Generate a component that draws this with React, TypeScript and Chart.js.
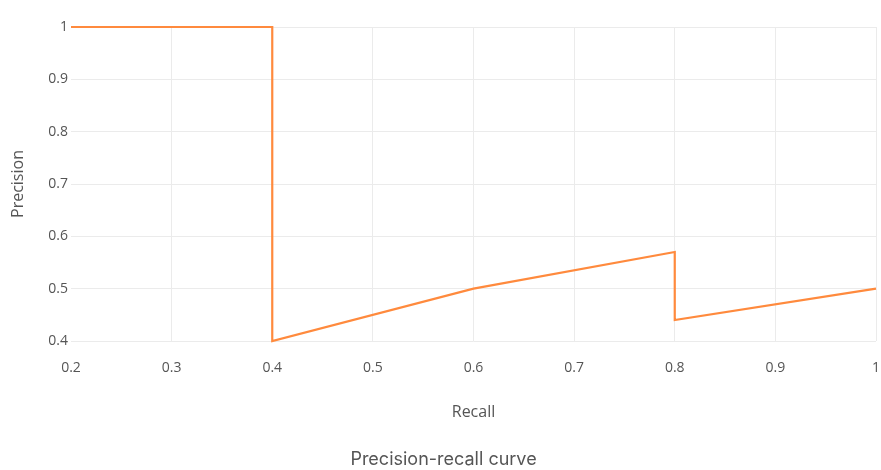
import React, { useEffect, useRef } from "react";
import { Chart, registerables } from "chart.js";

Chart.register(...registerables);

const recall = [0.2, 0.4, 0.4, 0.6, 0.8, 0.8, 1.0];
const precision = [1.0, 1.0, 0.4, 0.5, 0.57, 0.44, 0.5];

const xTitle = "Recall";
const yTitle = "Precision";
const chartTitle = "Precision-recall curve";

const TICK_FONT = { family: "'Open Sans', sans-serif", size: 14 };
const fmt = (v: number) => String(Number(v.toFixed(2)));

export default function App() {
  const ref = useRef<HTMLCanvasElement>(null);
  useEffect(() => {
    document.body.style.margin = "0";
    const chart = new Chart(ref.current!, {
      type: "line",
      data: {
        datasets: [
          {
            data: recall.map((x, i) => ({ x, y: precision[i] })),
            borderColor: "#ff8a3d",
            borderWidth: 2.2,
            pointRadius: 0,
            tension: 0,
            fill: false,
            clip: false,
          },
        ],
      },
      options: {
        animation: false,
        responsive: false,
        layout: { padding: { top: 27, right: 5, left: 11, bottom: 0 } },
        plugins: {
          legend: { display: false },
          tooltip: { enabled: false },
          title: {
            display: true,
            text: chartTitle,
            position: "bottom",
            color: "#555",
            font: { family: "Inter, 'Noto Sans', sans-serif", size: 18, weight: "normal" },
            padding: 0,
          },
        },
        scales: {
          x: {
            type: "linear",
            min: 0.2,
            max: 1,
            border: { display: false },
            grid: {
              drawTicks: false,
              color: (c: any) => (c.index === 0 ? "rgba(0,0,0,0)" : "#ebebeb"),
            },
            ticks: {
              stepSize: 0.1,
              padding: 19,
              color: "#555",
              font: TICK_FONT,
              callback: (v: any) => fmt(Number(v)),
              maxRotation: 0,
            },
            title: {
              display: true,
              text: xTitle,
              color: "#555",
              font: { family: "'Open Sans', sans-serif", size: 16 },
              padding: { top: 0, bottom: 26 },
            },
            afterFit: (s: any) => {
              s.height = 107.4;
              s.paddingRight = 0;
              s.paddingLeft = 0;
            },
          },
          y: {
            type: "linear",
            min: 0.4,
            max: 1,
            border: { display: false },
            grid: {
              drawTicks: false,
              color: "#ebebeb",
            },
            ticks: {
              stepSize: 0.1,
              padding: 3,
              color: "#555",
              font: TICK_FONT,
              callback: (v: any) => fmt(Number(v)),
            },
            title: {
              display: true,
              text: yTitle,
              color: "#555",
              font: { family: "'Open Sans', sans-serif", size: 16 },
              padding: { top: -2, bottom: 0 },
            },
            afterFit: (s: any) => {
              s.width = 60;
              s.paddingTop = 0;
              s.paddingBottom = 0;
            },
          },
        },
      },
    });
    return () => chart.destroy();
  }, []);
  return <canvas ref={ref} width={881} height={470} style={{ display: "block" }} />;
}
